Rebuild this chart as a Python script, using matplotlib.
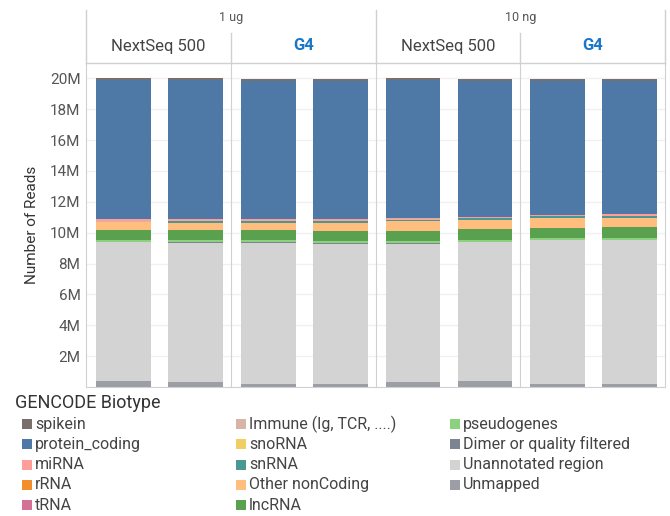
import matplotlib.pyplot as plt
from matplotlib.lines import Line2D
from matplotlib.patches import Rectangle
import numpy as np

plt.rcParams['font.family'] = ['Roboto', 'DejaVu Sans']

# reads per biotype, in millions; 2 libraries per facet
inputs = ['1 ug', '10 ng']
platforms = ['NextSeq 500', 'G4', 'NextSeq 500', 'G4']

unmapped    = [0.37, 0.31, 0.17, 0.17, 0.31, 0.37, 0.17, 0.17]
unannotated = [9.02, 9.02, 9.17, 9.10, 8.97, 9.02, 9.34, 9.34]
dimer       = [0.005, 0.09, 0.07, 0.07, 0.07, 0.005, 0.005, 0.005]
pseudogenes = [0.13, 0.11, 0.11, 0.11, 0.11, 0.13, 0.13, 0.13]
lncrna      = [0.65, 0.65, 0.65, 0.65, 0.65, 0.71, 0.65, 0.71]
other_nc    = [0.54, 0.45, 0.45, 0.52, 0.67, 0.58, 0.65, 0.63]
snrna       = [0.005, 0.13, 0.13, 0.13, 0.07, 0.15, 0.15, 0.09]
snorna      = [0.005] * 8
immune      = [0.005] * 8
trna        = [0.005] * 8
rrna        = [0.005] * 8
mirna       = [0.13, 0.09, 0.09, 0.09, 0.07, 0.005, 0.005, 0.09]
protein     = [9.00, 9.00, 9.00, 9.00, 8.93, 8.87, 8.74, 8.68]
spikein     = [0.13] * 8

# bottom -> top
stack = [
    ('Unmapped', unmapped, '#9b9fa5'),
    ('Unannotated region', unannotated, '#d3d3d3'),
    ('Dimer or quality filtered', dimer, '#7b848f'),
    ('pseudogenes', pseudogenes, '#8cd17d'),
    ('lncRNA', lncrna, '#59a14f'),
    ('Other nonCoding', other_nc, '#ffbe7d'),
    ('snRNA', snrna, '#499894'),
    ('snoRNA', snorna, '#f1ce63'),
    ('Immune (Ig, TCR, ....)', immune, '#d7b5a6'),
    ('tRNA', trna, '#d37295'),
    ('rRNA', rrna, '#f28e2b'),
    ('miRNA', mirna, '#ff9d9a'),
    ('protein_coding', protein, '#4e79a7'),
    ('spikein', spikein, '#79706e'),
]

fig = plt.figure(figsize=(6.7, 5.16), dpi=100)
W, H = 670, 516
left, right, bottom, top = 86, 665, 387, 63
edges = np.linspace(left, right, 5)
line_c = '#d0d0d0'

axes = []
for i in range(4):
    ax = fig.add_axes([edges[i] / W, 1 - bottom / H, (edges[i + 1] - edges[i]) / W, (bottom - top) / H])
    x = np.array([0, 1])
    base = np.zeros(2)
    for name, vals, col in stack:
        v = np.array(vals[2 * i:2 * i + 2])
        ax.bar(x, v, bottom=base, width=0.76, color=col, linewidth=0)
        base += v
    ax.set_xlim(-0.52, 1.49)
    ax.set_ylim(0, 21)
    ax.set_yticks(np.arange(2, 21, 2))
    ax.yaxis.grid(True, color='#f0f0f0', linewidth=1)
    ax.set_axisbelow(True)
    ax.set_xticks([])
    ax.tick_params(axis='y', length=0, labelsize=11, labelcolor='#555555', pad=4)
    for s in ['top', 'right']:
        ax.spines[s].set_visible(False)
    ax.spines['left'].set_color(line_c)
    ax.spines['bottom'].set_color(line_c)
    if i == 0:
        ax.set_yticklabels([f'{t}M' for t in range(2, 21, 2)])
        ax.set_ylabel('Number of Reads', fontsize=11, color='#333333', labelpad=8)
    else:
        ax.set_yticklabels([])
    if i == 3:
        ax.spines['right'].set_visible(True)
        ax.spines['right'].set_color(line_c)
    axes.append(ax)

# facet headers
def fl(x0, y0, x1, y1):
    fig.add_artist(Line2D([x0 / W, x1 / W], [1 - y0 / H, 1 - y1 / H], color=line_c, linewidth=1))

fl(left, top, right, top)
for xe in [edges[0], edges[2], edges[4]]:
    fl(xe, 10, xe, top)
for xe in [edges[1], edges[3]]:
    fl(xe, 33, xe, top)

for j, lab in enumerate(inputs):
    xc = (edges[2 * j] + edges[2 * j + 2]) / 2
    fig.text(xc / W, 1 - 18 / H, lab, ha='center', va='center', fontsize=9, color='#555555')
for i, lab in enumerate(platforms):
    xc = (edges[i] + edges[i + 1]) / 2
    if lab == 'G4':
        fig.text(xc / W, 1 - 46 / H, lab, ha='center', va='center', fontsize=12,
                 color='#1976c8', fontweight='bold')
    else:
        fig.text(xc / W, 1 - 46 / H, lab, ha='center', va='center', fontsize=12, color='#444444')

# legend: three fixed-width columns of 5, 5, 4 entries
fig.text(15 / W, 1 - 403 / H, 'GENCODE Biotype', ha='left', va='center', fontsize=13, color='#333333')
entries = stack[::-1]
for k, (name, vals, col) in enumerate(entries):
    cx = [22, 236, 450][k // 5]
    cy = 424 + 20.3 * (k % 5)
    fig.add_artist(Rectangle((cx / W, 1 - (cy + 5) / H), 10 / W, 10 / H,
                             transform=fig.transFigure, facecolor=col, edgecolor='none'))
    fig.text((cx + 13) / W, 1 - cy / H, name, ha='left', va='center', fontsize=11.5, color='#444444')

fig.savefig('out.png', dpi=100)
